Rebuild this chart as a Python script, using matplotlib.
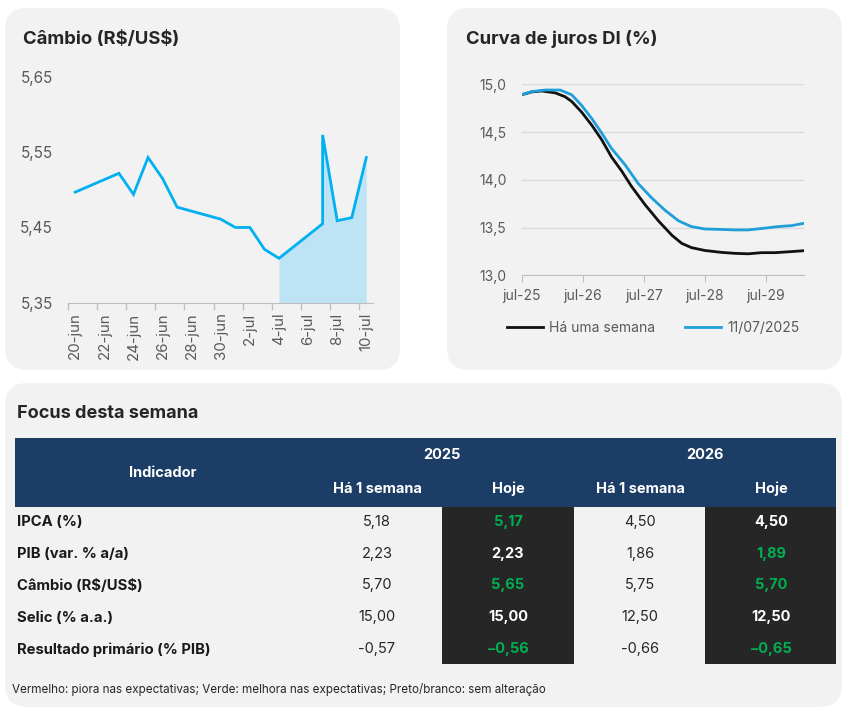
import numpy as np
import matplotlib
matplotlib.use("Agg")
import matplotlib.pyplot as plt
from matplotlib.patches import FancyBboxPatch, Rectangle

plt.rcParams['font.family'] = ['Inter', 'DejaVu Sans']
plt.rcParams['text.parse_math'] = False  # os "$" do texto não são mathtext

# Câmbio diário (R$/US$)
datas = ['2025-06-20', '2025-06-23', '2025-06-24', '2025-06-25', '2025-06-26',
         '2025-06-27', '2025-06-30', '2025-07-01', '2025-07-02', '2025-07-03',
         '2025-07-04', '2025-07-07', '2025-07-07', '2025-07-08', '2025-07-09',
         '2025-07-10']
cambio = [5.497, 5.522, 5.494, 5.543, 5.515, 5.477, 5.461, 5.450, 5.450, 5.421,
          5.409, 5.455, 5.573, 5.459, 5.463, 5.543]
rotulos_x = ['20-jun', '22-jun', '24-jun', '26-jun', '28-jun', '30-jun',
             '2-jul', '4-jul', '6-jul', '8-jul', '10-jul']
inicio_sombra = '2025-07-04'

# Curva DI (prazo em anos a partir de jul-25)
prazo_hoje = [0, 0.16, 0.38, 0.63, 0.82, 0.98, 1.15, 1.31, 1.47, 1.69, 1.91, 2.13,
              2.35, 2.57, 2.78, 3.00, 3.27, 3.49, 3.71, 3.93, 4.20, 4.42, 4.63]
di_hoje = [14.89, 14.923, 14.94, 14.94, 14.89, 14.78, 14.64, 14.49, 14.33, 14.16,
           13.96, 13.81, 13.68, 13.57, 13.51, 13.485, 13.48, 13.475, 13.475,
           13.49, 13.51, 13.52, 13.545]
prazo_semana = [0, 0.16, 0.33, 0.55, 0.71, 0.82, 0.98, 1.15, 1.31, 1.47, 1.64, 1.80,
                2.02, 2.24, 2.46, 2.62, 2.78, 3.00, 3.27, 3.49, 3.71, 3.93, 4.15,
                4.42, 4.63]
di_semana = [14.89, 14.92, 14.93, 14.91, 14.87, 14.82, 14.71, 14.57, 14.42, 14.24,
             14.09, 13.93, 13.74, 13.57, 13.42, 13.335, 13.29, 13.26, 13.24, 13.23,
             13.225, 13.237, 13.237, 13.248, 13.258]
rotulos_di = ['jul-25', 'jul-26', 'jul-27', 'jul-28', 'jul-29']

# Focus
indicadores = ['IPCA (%)', 'PIB (var. % a/a)', 'Câmbio (R$/US$)', 'Selic (% a.a.)',
               'Resultado primário (% PIB)']
semana_2025 = [5.18, 2.23, 5.70, 15.00, -0.57]
hoje_2025 = [5.17, 2.23, 5.65, 15.00, -0.56]
semana_2026 = [4.50, 1.86, 5.75, 12.50, -0.66]
hoje_2026 = [4.50, 1.89, 5.70, 12.50, -0.65]
status_2025 = ['melhora', 'igual', 'melhora', 'igual', 'melhora']
status_2026 = ['igual', 'melhora', 'melhora', 'igual', 'melhora']

W, H = 845, 714
CINZA = '#595959'
FUNDO = '#F2F2F2'
AZUL_ESC = '#1C3D66'
PRETO = '#262626'
VERDE = '#00B050'
cores_status = {'melhora': VERDE, 'igual': 'white', 'piora': '#FF0000'}


def fmt(v, traco='-'):
    s = f"{abs(v):.2f}".replace('.', ',')
    return (traco + s) if v < 0 else s


def eixo(x0, y0, x1, y1):
    # cria eixo a partir de coordenadas em pixels (origem no topo)
    return fig.add_axes([x0 / W, 1 - y1 / H, (x1 - x0) / W, (y1 - y0) / H])


fig = plt.figure(figsize=(W / 100, H / 100), dpi=100)
fig.patch.set_facecolor('white')

bg = fig.add_axes([0, 0, 1, 1])
bg.set_xlim(0, W)
bg.set_ylim(H, 0)
bg.axis('off')
bg.set_zorder(0)

for (x, y, w, h) in [(5, 8, 395, 362), (447, 8, 395, 362), (5, 383, 837, 324)]:
    bg.add_patch(FancyBboxPatch((x, y), w, h, boxstyle="round,pad=0,rounding_size=22",
                                fc=FUNDO, ec='none'))

bg.text(23, 39, 'Câmbio (R$/US$)', fontsize=13.3, fontweight='bold', color='#262626',
        va='center', ha='left')
bg.text(466, 39, 'Curva de juros DI (%)', fontsize=13.3, fontweight='bold', color='#262626',
        va='center', ha='left')

# ---- Câmbio ----
ax1 = eixo(68, 77, 372.7, 302.7)
ax1.set_facecolor('none')
dias = (np.array(datas, dtype='datetime64[D]') - np.datetime64(datas[0], 'D')).astype(float)
valores = np.array(cambio)
ax1.plot(dias, valores, color='#00B0F0', lw=2, solid_joinstyle='miter', zorder=3)
d0 = float((np.datetime64(inicio_sombra) - np.datetime64(datas[0])).astype(int))
m = dias >= d0
ax1.fill_between(dias[m], valores[m], 5.35, color='#BEE3F5', lw=0, zorder=2)
ax1.set_xlim(-0.5, 20.44)
ax1.set_ylim(5.35, 5.65)
ax1.set_yticks([5.35, 5.45, 5.55, 5.65])
ax1.set_yticklabels([f"{v:.2f}".replace('.', ',') for v in [5.35, 5.45, 5.55, 5.65]])
ax1.set_xticks(np.arange(-0.5, 20, 2))
ax1.set_xticklabels([])
ax1.set_xticks(np.arange(0, 21, 2), minor=True)
ax1.set_xticklabels(rotulos_x, minor=True, rotation=90)
ax1.tick_params(axis='x', which='major', length=5, color='#BFBFBF', width=1)
ax1.tick_params(axis='x', which='minor', length=0, pad=7, labelsize=10.8, labelcolor=CINZA)
ax1.tick_params(axis='y', length=0, pad=11, labelsize=11, labelcolor=CINZA)
for s in ['top', 'right', 'left']:
    ax1.spines[s].set_visible(False)
ax1.spines['bottom'].set_color('#BFBFBF')

# ---- Curva DI ----
ax2 = eixo(521.7, 84.3, 804.3, 275.3)
ax2.set_facecolor('none')
ax2.plot(prazo_semana, di_semana, color='#111111', lw=2, label='Há uma semana', zorder=3)
ax2.plot(prazo_hoje, di_hoje, color='#1F9ED9', lw=2, label='11/07/2025', zorder=3)
ax2.set_xlim(0, 4.63)
ax2.set_ylim(13.0, 15.0)
ax2.set_yticks([13.0, 13.5, 14.0, 14.5, 15.0])
ax2.set_yticklabels([f"{v:.1f}".replace('.', ',') for v in [13.0, 13.5, 14.0, 14.5, 15.0]])
ax2.set_xticks(range(len(rotulos_di)))
ax2.set_xticklabels(rotulos_di)
ax2.grid(axis='y', color='#D9D9D9', lw=1)
ax2.set_axisbelow(True)
ax2.tick_params(axis='x', length=5, color='#BFBFBF', pad=5, labelsize=10, labelcolor=CINZA)
ax2.tick_params(axis='y', length=0, pad=11, labelsize=10, labelcolor=CINZA)
for s in ['top', 'right', 'left']:
    ax2.spines[s].set_visible(False)
ax2.spines['bottom'].set_color('#BFBFBF')
leg = ax2.legend(loc='center', bbox_to_anchor=(0.465, -0.275), ncol=2, frameon=False,
                 fontsize=10, handlelength=2.6, columnspacing=2.2, handletextpad=0.4)
for t in leg.get_texts():
    t.set_color(CINZA)

# ---- Focus ----
bg.text(17, 414, 'Focus desta semana', fontsize=13, fontweight='bold', color='#262626',
        va='center', ha='left')
tx0, tx1 = 15, 836
bg.add_patch(Rectangle((tx0, 438), tx1 - tx0, 68.5, fc=AZUL_ESC, ec='none'))
col_x = [377, 508, 640, 771]
for xa, xb in [(442, 574), (705, 836)]:
    bg.add_patch(Rectangle((xa, 506.5), xb - xa, 157.5, fc=PRETO, ec='none'))

bg.text(163, 473, 'Indicador', fontsize=10.5, fontweight='bold', color='white',
        ha='center', va='center')
bg.text(442, 455, '2025', fontsize=10.5, fontweight='bold', color='white', ha='center', va='center')
bg.text(705, 455, '2026', fontsize=10.5, fontweight='bold', color='white', ha='center', va='center')
for cx, lab in zip(col_x, ['Há 1 semana', 'Hoje', 'Há 1 semana', 'Hoje']):
    bg.text(cx, 489, lab, fontsize=10.5, fontweight='bold', color='white',
            ha='center', va='center')

row_y = [522, 554, 585.5, 617.5, 649.5]
for i, y in enumerate(row_y):
    bg.text(17, y, indicadores[i], fontsize=10.7, fontweight='bold', color='#1A1A1A',
            ha='left', va='center')
    bg.text(col_x[0], y, fmt(semana_2025[i]), fontsize=10.5, color='#262626',
            ha='center', va='center')
    bg.text(col_x[1], y, fmt(hoje_2025[i], '–'), fontsize=10.5, fontweight='bold',
            color=cores_status[status_2025[i]], ha='center', va='center')
    bg.text(col_x[2], y, fmt(semana_2026[i]), fontsize=10.5, color='#262626',
            ha='center', va='center')
    bg.text(col_x[3], y, fmt(hoje_2026[i], '–'), fontsize=10.5, fontweight='bold',
            color=cores_status[status_2026[i]], ha='center', va='center')

bg.text(12, 690, 'Vermelho: piora nas expectativas; Verde: melhora nas expectativas; '
        'Preto/branco: sem alteração', fontsize=8.4, color='#262626', ha='left', va='center')

fig.savefig('out.png', dpi=100, facecolor='white')
